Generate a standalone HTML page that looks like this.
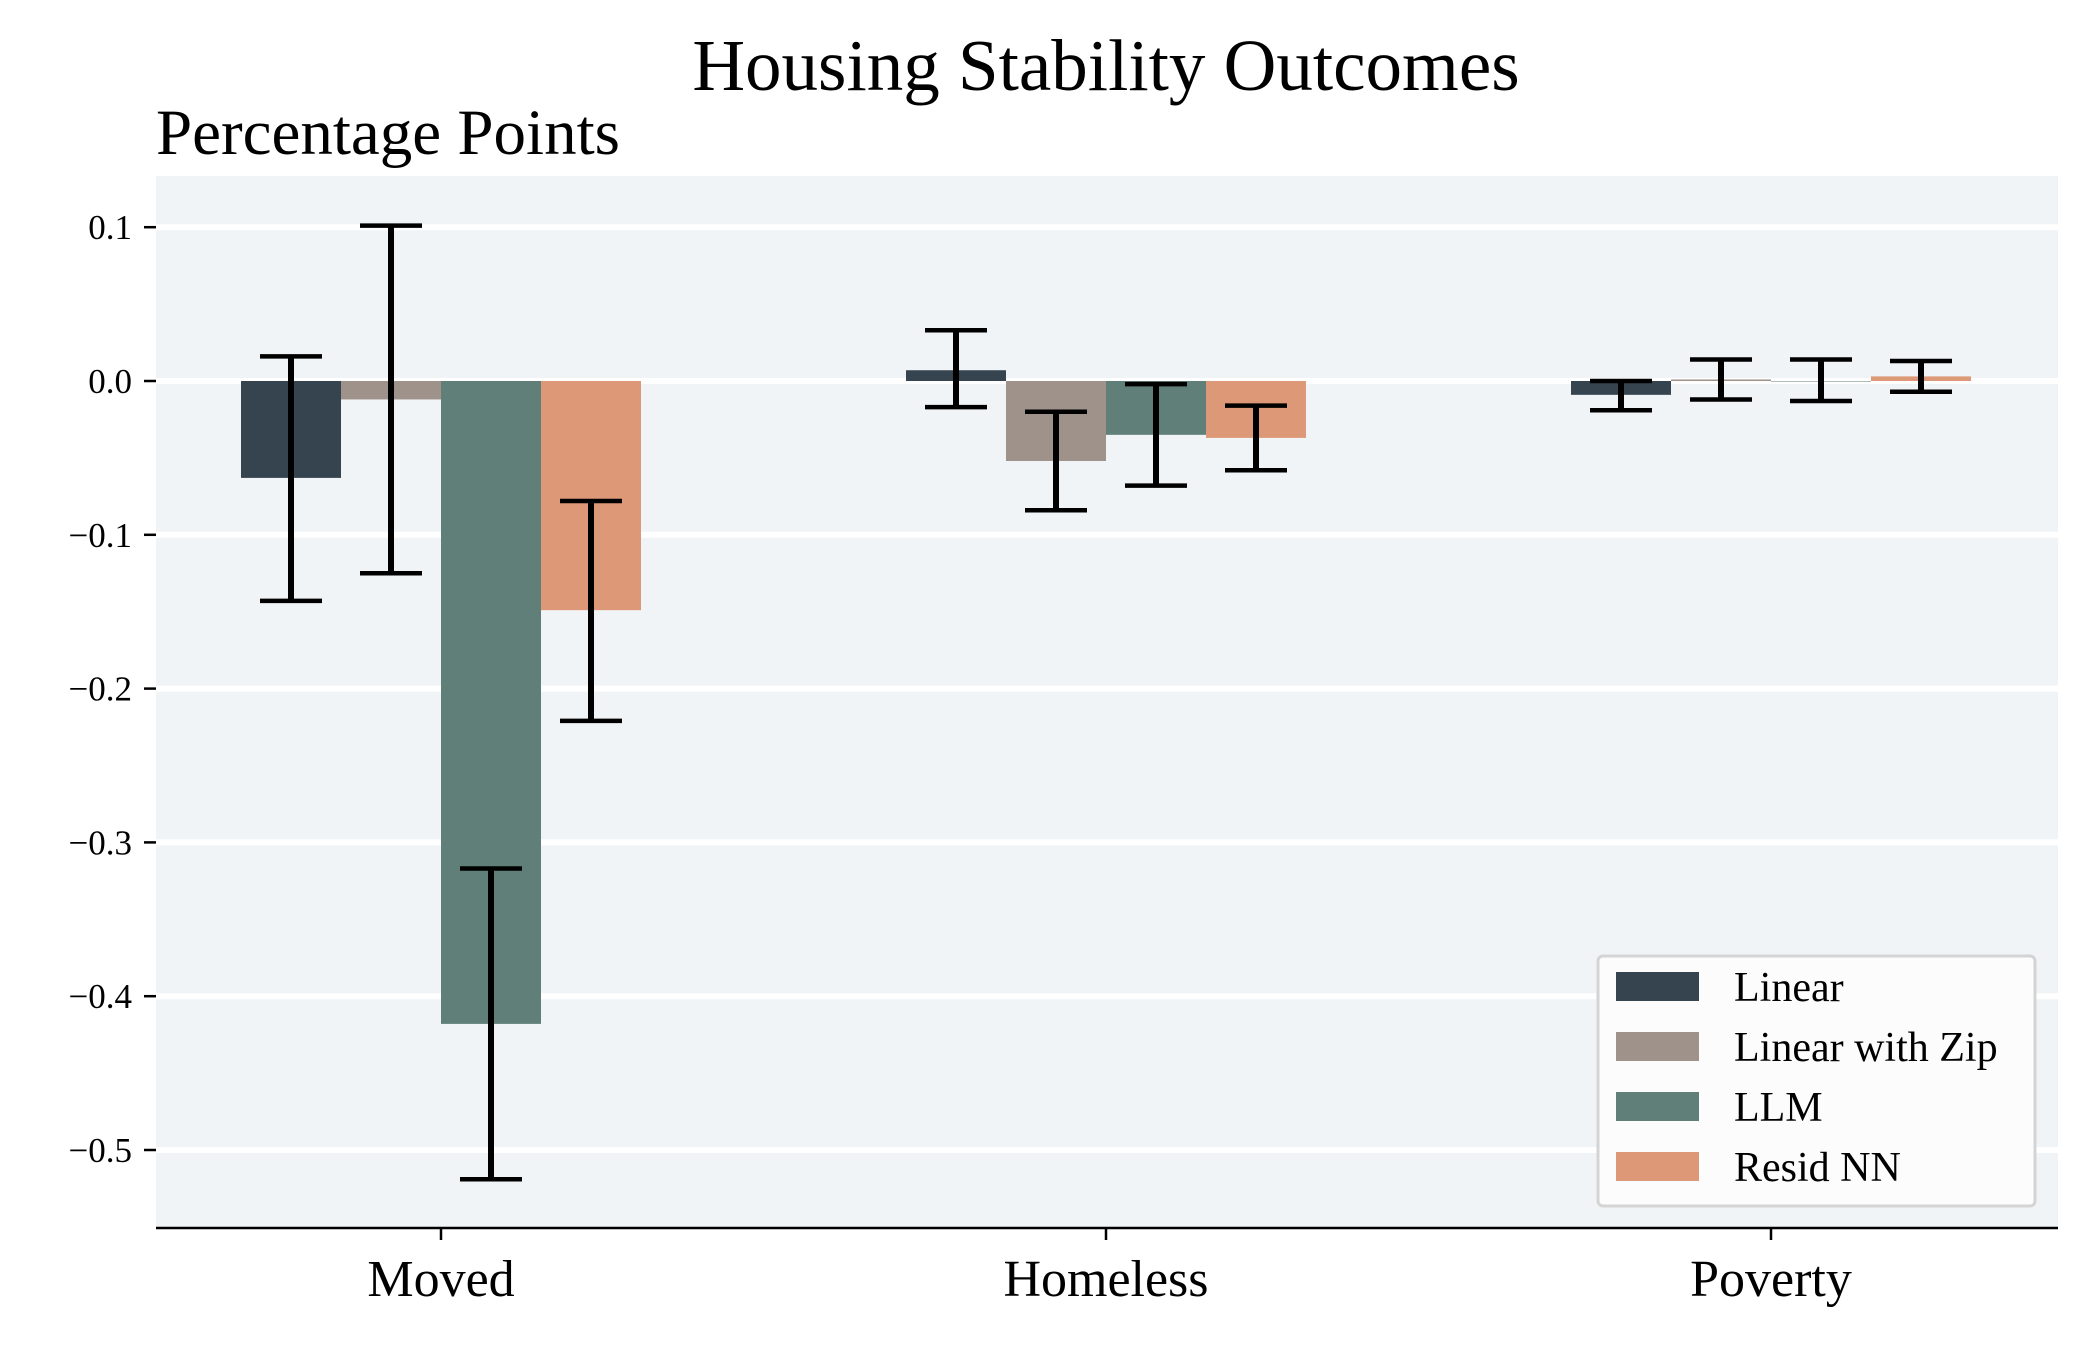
<!DOCTYPE html>
<html><head><meta charset="utf-8"><style>
html,body{margin:0;padding:0;background:#fff;}
svg text{font-family:"Liberation Serif",serif;fill:#000;}
</style></head><body>
<svg id="chart" width="2100" height="1350" viewBox="0 0 2100 1350" xmlns="http://www.w3.org/2000/svg">
<text x="1106" y="90" font-size="73" text-anchor="middle">Housing Stability Outcomes</text>
<text x="156" y="154" font-size="65">Percentage Points</text>
<rect x="156" y="176" width="1902" height="1052" fill="#f1f4f7"/>
<g id="grid"></g><g id="bars"></g><g id="errs"></g><g id="axes"></g>
<g>
<rect x="1598" y="956" width="437" height="250" rx="5" fill="#fcfcfc" stroke="#d4d4d4" stroke-width="3"/>
<g id="legend-items"></g>
</g>
</svg>
<script>
const categories = ["Moved","Homeless","Poverty"];
const seriesNames = ["Linear","Linear with Zip","LLM","Resid NN"];
const linearVals = [-0.063, 0.007, -0.009];
const zipVals = [-0.012, -0.052, 0.001];
const llmVals = [-0.418, -0.035, 0.000];
const residVals = [-0.149, -0.037, 0.003];
const linearLo = [-0.143, -0.017, -0.019];
const linearHi = [0.016, 0.033, 0.000];
const zipLo = [-0.125, -0.084, -0.012];
const zipHi = [0.101, -0.020, 0.014];
const llmLo = [-0.519, -0.068, -0.013];
const llmHi = [-0.317, -0.002, 0.014];
const residLo = [-0.221, -0.058, -0.007];
const residHi = [-0.078, -0.016, 0.013];
const yTicks = [0.1, 0.0, -0.1, -0.2, -0.3, -0.4, -0.5];
const yTickLabels = ["0.1","0.0","\u22120.1","\u22120.2","\u22120.3","\u22120.4","\u22120.5"];

const colors = ["#36444f","#9e928b","#5f7f78","#dd9877"];
const vals = [linearVals, zipVals, llmVals, residVals];
const los = [linearLo, zipLo, llmLo, residLo];
const his = [linearHi, zipHi, llmHi, residHi];
const NS = "http://www.w3.org/2000/svg";
const plotL = 156, plotR = 2058, plotT = 176, plotB = 1228;
const y0px = 381, perUnit = 1538;
function y(v){ return y0px - v*perUnit; }
const groupX = [441, 1106, 1771];
function x(i){ return groupX[i]; }
const barW = 100;
function mk(tag, attrs, parent){ const e=document.createElementNS(NS,tag); for(const k in attrs) e.setAttribute(k,attrs[k]); parent.appendChild(e); return e; }
const grid=document.getElementById('grid'), bars=document.getElementById('bars'), errs=document.getElementById('errs'), axes=document.getElementById('axes');
yTicks.forEach((t,i)=>{
  const g=mk('line',{x1:plotL,x2:plotR,y1:y(t),y2:y(t),stroke:'#fff','stroke-width':6},grid);
  
  
  const tk=mk('line',{x1:plotL-12,x2:plotL,y1:y(t),y2:y(t),stroke:'#000','stroke-width':2.5},axes);
  
  
  const tl=mk('text',{x:plotL-24,y:y(t)+12,'font-size':35,'text-anchor':'end'},axes);
  tl.textContent=yTickLabels[i];
  
  
});
categories.forEach((c,ci)=>{
  for(let s=0;s<4;s++){
    const bx=x(ci)-2*barW+s*barW, v=vals[s][ci];
    const r=mk('rect',{x:bx,y:Math.min(y(v),y(0)),width:barW,height:Math.max(Math.abs(y(v)-y(0)),0.5),fill:colors[s]},bars);
    
    
    const cx=bx+barW/2, ylo=y(los[s][ci]), yhi=y(his[s][ci]);
    const eg=mk('g',{stroke:'#000','stroke-width':6},errs);
    
    
    mk('line',{x1:cx,x2:cx,y1:ylo,y2:yhi},eg);
    mk('line',{x1:cx-31,x2:cx+31,y1:ylo,y2:ylo,'stroke-width':4.5},eg);
    mk('line',{x1:cx-31,x2:cx+31,y1:yhi,y2:yhi,'stroke-width':4.5},eg);
  }
  const tk=mk('line',{x1:x(ci),x2:x(ci),y1:plotB,y2:plotB+12,stroke:'#000','stroke-width':2.5},axes);
  
  
  const tl=mk('text',{x:x(ci),y:plotB+68,'font-size':52,'text-anchor':'middle'},axes);
  tl.textContent=c;
  
  
});
const sp=mk('line',{x1:plotL,x2:plotR,y1:plotB,y2:plotB,stroke:'#000','stroke-width':2.5},axes);


const li=document.getElementById('legend-items');
const legY=[987,1047,1107,1167];
seriesNames.forEach((n,i)=>{
  const g=mk('g',{},li);
  
  
  mk('rect',{x:1616,y:legY[i]-15,width:83,height:29,fill:colors[i]},g);
  const t=mk('text',{x:1734,y:legY[i]+14,'font-size':42},g);
  t.textContent=n;
});
</script>
</body></html>
